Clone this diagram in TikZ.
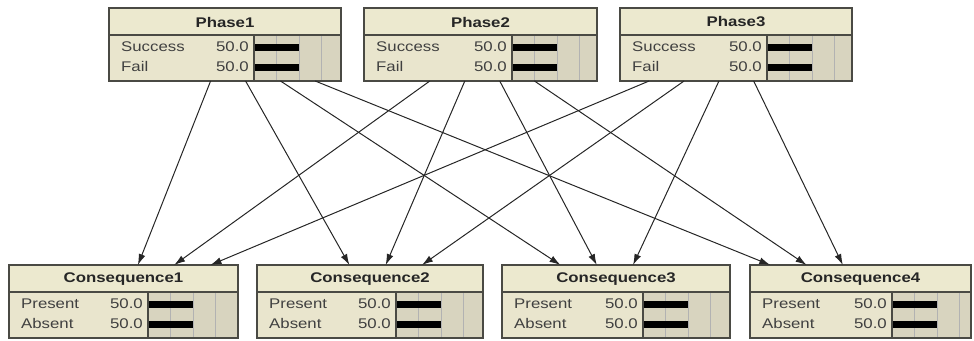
\documentclass[tikz,border=0pt]{standalone}
\usepackage{fontspec}
\setmainfont{Liberation Sans}[FakeStretch=1.2]
\usetikzlibrary{arrows.meta}

\definecolor{titlefill}{HTML}{ECE9CF}
\definecolor{rowfill}{HTML}{E9E5CD}
\definecolor{panelfill}{HTML}{D8D4BF}
\definecolor{framecol}{HTML}{4A4A44}

\tikzset{
  frame/.style={draw=framecol, line width=1.2pt, inner sep=0pt, outer sep=0pt},
  gridline/.style={draw=black!30, line width=0.8pt},
  bar/.style={fill=black},
  titletext/.style={font=\fontsize{14}{16}\selectfont\bfseries, text=black!85},
  statetext/.style={font=\fontsize{14}{16}\selectfont, text=black!75, inner sep=0pt},
  link/.style={draw=black!85, line width=1pt, -{Latex[length=11pt,width=7pt]}}
}

\begin{document}
\begin{tikzpicture}[x=1pt,y=-1pt]
    \useasboundingbox (0,0) rectangle (974,340);

    % name / left / top / width / start of bars / title / state 1 / state 2
    \foreach \nm/\x/\y/\w/\b/\ttl/\la/\lb in {
        p1/109/8/232/145/Phase1/Success/Fail,
        p2/364/8/233/148/Phase2/Success/Fail,
        p3/620/8/232/147/Phase3/Success/Fail,
        c1/9/265/229/139/Consequence1/Present/Absent,
        c2/257/265/226/139/Consequence2/Present/Absent,
        c3/502/265/228/141/Consequence3/Present/Absent,
        c4/750/265/221/142/Consequence4/Present/Absent}{
        \fill[titlefill] (\x,\y) rectangle ++(\w,27);
        \fill[rowfill] (\x,\y+27) rectangle ++(\b,46);
        \fill[panelfill] (\x+\b,\y+27) rectangle (\x+\w,\y+73);
        \foreach \g in {0.25,0.5,0.75}
            \draw[gridline] (\x+\b+\g*90,\y+27) -- ++(0,46);
        \fill[bar] (\x+\b,\y+36) rectangle ++(45,7);
        \fill[bar] (\x+\b,\y+56) rectangle ++(45,7);
        \draw[frame] (\x,\y+27) -- ++(\w,0);
        \draw[frame] (\x+\b,\y+27) -- ++(0,46);
        \node[frame, minimum width=\w pt, minimum height=73pt, anchor=north west] (\nm) at (\x,\y) {};
        \node[titletext] at (\x+\w/2,\y+14) {\ttl};
        \node[statetext, anchor=west] at (\x+12,\y+39) {\la};
        \node[statetext, anchor=west] at (\x+12,\y+58.5) {\lb};
        \node[statetext, anchor=east] at (\x+\b-5,\y+39) {50.0};
        \node[statetext, anchor=east] at (\x+\b-5,\y+58.5) {50.0};
    }

    % every phase points at every consequence
    \foreach \s in {p1,p2,p3}
        \foreach \t in {c1,c2,c3,c4}
            \draw[link] (\s) -- (\t);

\end{tikzpicture}
\end{document}
